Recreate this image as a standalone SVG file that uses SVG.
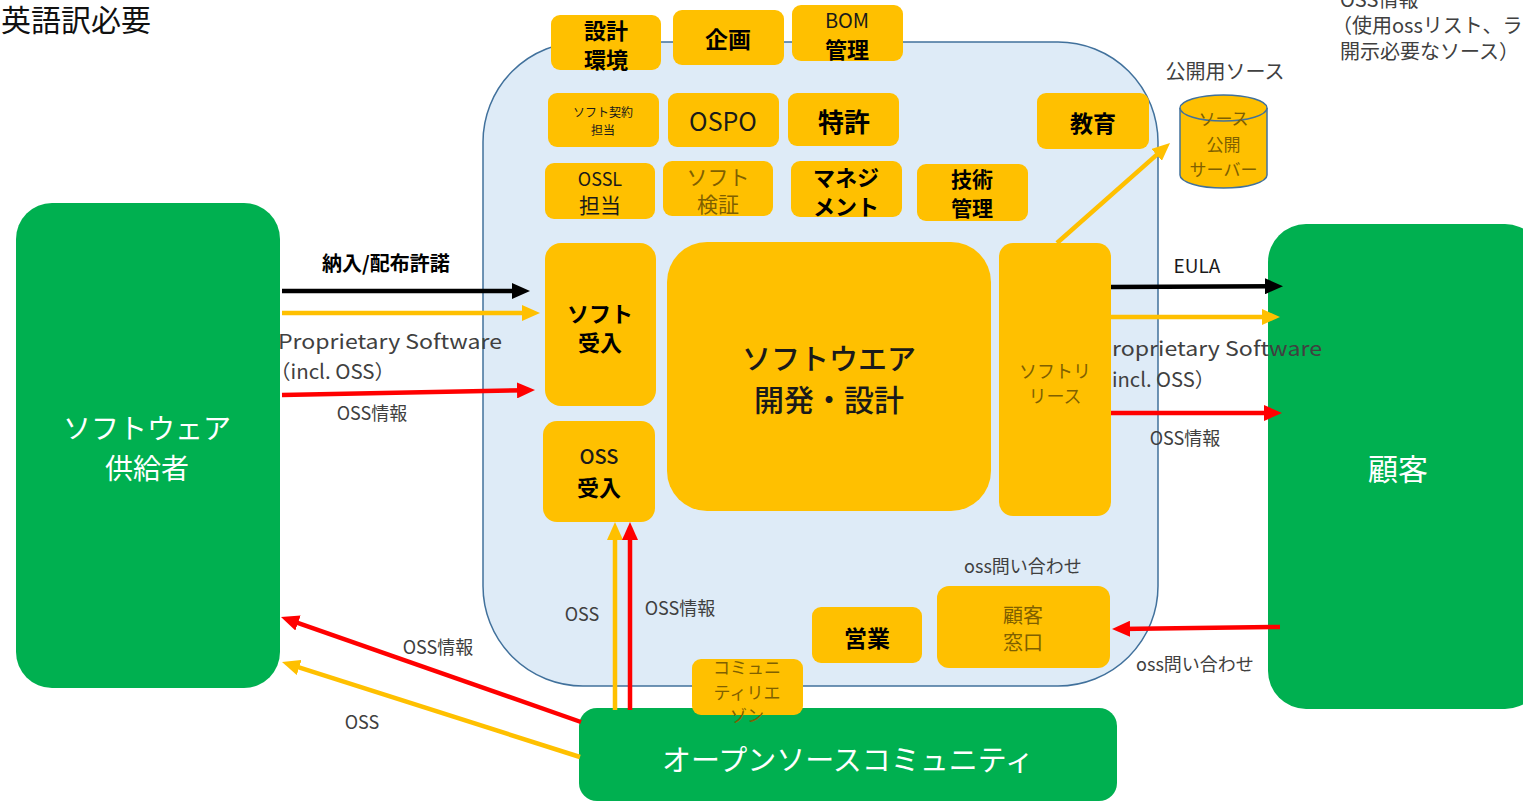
<svg xmlns="http://www.w3.org/2000/svg" width="1523" height="803" viewBox="0 0 1523 803">
<defs>
<style>
text{font-family:"Noto Sans CJK JP","Noto Sans",sans-serif;}
.box{fill:#FFC000;}
.green{fill:#00B050;}
.c{text-anchor:middle;dominant-baseline:central;}
.s{dominant-baseline:central;}
.b{font-weight:bold;fill:#000;}
.m{fill:#1a1a1a;}
.o{fill:#7f6000;}
.lbl{fill:#404040;}
.w{fill:#fff;}
.ln{fill:none;stroke-width:4.5;}
.k{stroke:#000;}
.y{stroke:#FFC000;}
.r{stroke:#FF0000;}
</style>
<marker id="ak" markerUnits="userSpaceOnUse" markerWidth="18" markerHeight="16" refX="11" refY="8" orient="auto"><path d="M0,0 L18,8 L0,16 z" fill="#000"/></marker>
<marker id="ay" markerUnits="userSpaceOnUse" markerWidth="18" markerHeight="16" refX="11" refY="8" orient="auto"><path d="M0,0 L18,8 L0,16 z" fill="#FFC000"/></marker>
<marker id="ar" markerUnits="userSpaceOnUse" markerWidth="18" markerHeight="16" refX="11" refY="8" orient="auto"><path d="M0,0 L18,8 L0,16 z" fill="#FF0000"/></marker>
</defs>
<rect width="1523" height="803" fill="#fff"/>

<g id="note-english">
<text x="1" y="18" class="s" font-size="30" fill="#111">英語訳必要</text>
</g>
<g id="note-oss">
<text x="1340" y="-2" font-size="20" class="lbl s">OSS情報</text>
<text x="1332" y="24" font-size="20" class="lbl s">（使用ossリスト、ラ</text>
<text x="1340" y="50" font-size="20" class="lbl s">開示必要なソース）</text>
</g>

<g id="company">
<rect x="483" y="42" width="675" height="644" rx="100" fill="#DEEBF7" stroke="#41719C" stroke-width="1.5"/>
</g>

<g id="supplier">
<rect class="green" x="16" y="203" width="264" height="485" rx="36"/>
<text class="c w" x="147" y="427" font-size="28">ソフトウェア</text>
<text class="c w" x="147" y="467" font-size="28">供給者</text>
</g>
<g id="customer">
<rect class="green" x="1268" y="224" width="275" height="485" rx="38"/>
<text class="c w" x="1398" y="467" font-size="30">顧客</text>
</g>
<g id="oss-community">
<rect class="green" x="579" y="708" width="538" height="93" rx="18"/>
<text class="c w" x="848" y="758" font-size="29">オープンソースコミュニティ</text>
</g>

<g id="design-env">
<rect class="box" x="551" y="15" width="110" height="55" rx="9"/>
<text class="c b" x="606" y="29" font-size="22">設計</text>
<text class="c b" x="606" y="58" font-size="22">環境</text>
</g>
<g id="planning">
<rect class="box" x="673" y="10" width="111" height="55" rx="9"/>
<text class="c b" x="728" y="38" font-size="23">企画</text>
</g>
<g id="bom">
<rect class="box" x="792" y="5" width="111" height="56" rx="9"/>
<text class="c m" x="847" y="19" font-size="20">BOM</text>
<text class="c b" x="847" y="48" font-size="22">管理</text>
</g>
<g id="contract">
<rect class="box" x="548" y="93" width="111" height="54" rx="9"/>
<text class="c m" x="603" y="111" font-size="12">ソフト契約</text>
<text class="c m" x="603" y="129" font-size="12">担当</text>
</g>
<g id="ospo">
<rect class="box" x="668" y="93" width="111" height="54" rx="9"/>
<text class="c m" x="723" y="120" font-size="25">OSPO</text>
</g>
<g id="patent">
<rect class="box" x="788" y="93" width="111" height="53" rx="9"/>
<text class="c b" x="844" y="120" font-size="26">特許</text>
</g>
<g id="education">
<rect class="box" x="1037" y="93" width="112" height="56" rx="9"/>
<text class="c b" x="1093" y="122" font-size="23">教育</text>
</g>
<g id="ossl">
<rect class="box" x="545" y="163" width="110" height="56" rx="9"/>
<text class="c m" x="600" y="178" font-size="18">OSSL</text>
<text class="c m" x="600" y="204" font-size="21">担当</text>
</g>
<g id="verify">
<rect class="box" x="663" y="161" width="110" height="55" rx="9"/>
<text class="c o" x="718" y="176" font-size="21">ソフト</text>
<text class="c o" x="718" y="203" font-size="21">検証</text>
</g>
<g id="management">
<rect class="box" x="791" y="161" width="111" height="56" rx="9"/>
<text class="c b" x="846" y="176" font-size="22">マネジ</text>
<text class="c b" x="846" y="205" font-size="22">メント</text>
</g>
<g id="tech-mgmt">
<rect class="box" x="917" y="164" width="111" height="57" rx="9"/>
<text class="c b" x="972" y="178" font-size="21">技術</text>
<text class="c b" x="972" y="207" font-size="21">管理</text>
</g>
<g id="sw-intake">
<rect class="box" x="545" y="243" width="111" height="163" rx="16"/>
<text class="c b" x="600" y="312" font-size="22">ソフト</text>
<text class="c b" x="600" y="341" font-size="22">受入</text>
</g>
<g id="oss-intake">
<rect class="box" x="543" y="421" width="112" height="101" rx="14"/>
<text class="c m" x="599" y="455" font-size="20" font-weight="500">OSS</text>
<text class="c b" x="599" y="486" font-size="22">受入</text>
</g>
<g id="dev">
<rect class="box" x="667" y="242" width="324" height="269" rx="40"/>
<text class="c m" x="829" y="357" font-size="29" font-weight="500">ソフトウエア</text>
<text class="c m" x="829" y="398" font-size="30" font-weight="500">開発・設計</text>
</g>
<g id="release">
<rect class="box" x="999" y="243" width="112" height="273" rx="14"/>
<text class="c o" x="1055" y="370" font-size="18">ソフトリ</text>
<text class="c o" x="1055" y="395" font-size="18">リース</text>
</g>
<g id="sales">
<rect class="box" x="812" y="607" width="110" height="56" rx="9"/>
<text class="c b" x="867" y="637" font-size="23">営業</text>
</g>
<g id="support">
<rect class="box" x="937" y="586" width="173" height="82" rx="12"/>
<text class="c o" x="1023" y="614" font-size="20">顧客</text>
<text class="c o" x="1023" y="641" font-size="20">窓口</text>
</g>
<g id="liaison">
<rect class="box" x="692" y="659" width="111" height="56" rx="9"/>
<text class="c o" x="747" y="666" font-size="17">コミュニ</text>
<text class="c o" x="747" y="691" font-size="17">ティリエ</text>
<text class="c o" x="747" y="714" font-size="17">ゾン</text>
</g>
<g id="server">
<path d="M1180,108 L1180,175 A43.5,13 0 0 0 1267,175 L1267,108" fill="#FFC000" stroke="#41719C" stroke-width="1.5"/>
<ellipse cx="1223.5" cy="108" rx="43.5" ry="13" fill="#FFC000" stroke="#41719C" stroke-width="1.5"/>
<text class="c o" x="1223.5" y="117" font-size="17">ソース</text>
<text class="c o" x="1223.5" y="143" font-size="17">公開</text>
<text class="c o" x="1223.5" y="168" font-size="17">サーバー</text>
</g>

<g id="connectors">
<line class="ln k" x1="282" y1="291" x2="523" y2="291" marker-end="url(#ak)"/>
<line class="ln y" x1="282" y1="313" x2="533" y2="313" marker-end="url(#ay)"/>
<line class="ln r" x1="282" y1="395" x2="528" y2="390.2" marker-end="url(#ar)"/>
<line class="ln k" x1="1111" y1="287" x2="1276" y2="286.2" marker-end="url(#ak)"/>
<line class="ln y" x1="1111" y1="317" x2="1273" y2="317" marker-end="url(#ay)"/>
<line class="ln r" x1="1111" y1="413" x2="1275" y2="413" marker-end="url(#ar)"/>
<line class="ln r" x1="1280" y1="627" x2="1119" y2="628.9" marker-end="url(#ar)"/>
<line class="ln y" x1="615" y1="710" x2="615" y2="529" marker-end="url(#ay)"/>
<line class="ln r" x1="630" y1="710" x2="630" y2="529" marker-end="url(#ar)"/>
<line class="ln r" x1="581" y1="722" x2="287.6" y2="619.3" marker-end="url(#ar)"/>
<line class="ln y" x1="580" y1="757" x2="288.7" y2="664.1" marker-end="url(#ay)"/>
<line class="ln y" x1="1057" y1="243" x2="1164.8" y2="147.6" marker-end="url(#ay)"/>
</g>

<g id="labels">
<text x="322" y="262" font-size="20" class="b s">納入/配布許諾</text>
<text x="278" y="340" font-size="20" class="lbl s" textLength="224" lengthAdjust="spacingAndGlyphs">Proprietary Software</text>
<text x="270" y="370" font-size="20" class="lbl s" textLength="125" lengthAdjust="spacingAndGlyphs">（incl. OSS）</text>
<text x="372" y="412" font-size="18" class="lbl c">OSS情報</text>
<text x="1197" y="264" font-size="19" class="m c">EULA</text>
<text x="1112" y="347" font-size="20" class="lbl s" textLength="210" lengthAdjust="spacingAndGlyphs">roprietary Software</text>
<text x="1112" y="378" font-size="20" class="lbl s" textLength="103" lengthAdjust="spacingAndGlyphs">incl. OSS）</text>
<text x="1185" y="437" font-size="18" class="lbl c">OSS情報</text>
<text x="1023" y="565" font-size="18" class="lbl c">oss問い合わせ</text>
<text x="1195" y="663" font-size="18" class="lbl c">oss問い合わせ</text>
<text x="582" y="613" font-size="18" class="lbl c">OSS</text>
<text x="680" y="607" font-size="18" class="lbl c">OSS情報</text>
<text x="438" y="646" font-size="18" class="lbl c">OSS情報</text>
<text x="362" y="721" font-size="18" class="lbl c">OSS</text>
<text x="1225" y="70" font-size="20" class="lbl c">公開用ソース</text>
</g>
</svg>
